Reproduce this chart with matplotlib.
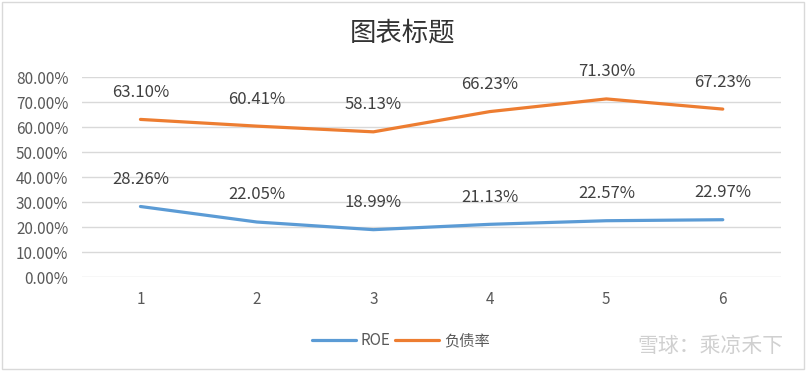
import matplotlib.pyplot as plt
from matplotlib.patches import Rectangle

plt.rcParams['font.family'] = ['Noto Sans CJK SC', 'DejaVu Sans']

categories = ['1', '2', '3', '4', '5', '6']
roe = [28.26, 22.05, 18.99, 21.13, 22.57, 22.97]
debt = [63.10, 60.41, 58.13, 66.23, 71.30, 67.23]
yticks = [0, 10, 20, 30, 40, 50, 60, 70, 80]

fig = plt.figure(figsize=(8.06, 3.71), dpi=100)
ax = fig.add_axes([0.102, 0.253, 0.867, 0.539])

x = list(range(len(categories)))
ax.plot(x, roe, color='#5B9BD5', linewidth=2.3, label='ROE', solid_capstyle='round')
ax.plot(x, debt, color='#ED7D31', linewidth=2.3, label='负债率', solid_capstyle='round')

for xi, v in zip(x, roe):
    ax.annotate('%.2f%%' % v, (xi, v), xytext=(0, 19.5), textcoords='offset points',
                ha='center', va='center', fontsize=12, color='#404040')
for xi, v in zip(x, debt):
    ax.annotate('%.2f%%' % v, (xi, v), xytext=(0, 19.5), textcoords='offset points',
                ha='center', va='center', fontsize=12, color='#404040')

ax.set_xlim(-0.5, len(categories) - 0.5)
ax.set_ylim(0, 80)
ax.set_yticks(yticks)
ax.set_yticklabels(['%.2f%%' % t for t in yticks])
ax.set_xticks(x)
ax.set_xticklabels(categories)
ax.tick_params(length=0, labelsize=11, colors='#595959', pad=10)
ax.tick_params(axis='x', pad=10)
ax.grid(axis='y', color='#D9D9D9', linewidth=1)
ax.set_axisbelow(True)
for s in ax.spines.values():
    s.set_visible(False)

fig.text(0.5, 0.911, '图表标题', ha='center', va='center', fontsize=19, color='#333333')

fig.legend(loc='center', bbox_to_anchor=(0.497, 0.081), ncol=2, frameon=False,
           fontsize=11, handlelength=2.9, columnspacing=0.3, handletextpad=0.3,
           labelcolor='#595959')

fig.text(0.972, 0.067, '雪球：乘凉禾下', ha='right', va='center', fontsize=15, color='#D0D0D0')

fig.patches.append(Rectangle((0.002, 0.005), 0.996, 0.99, transform=fig.transFigure,
                             fill=False, edgecolor='#D9D9D9', linewidth=1))

fig.savefig('out.png', dpi=100)
